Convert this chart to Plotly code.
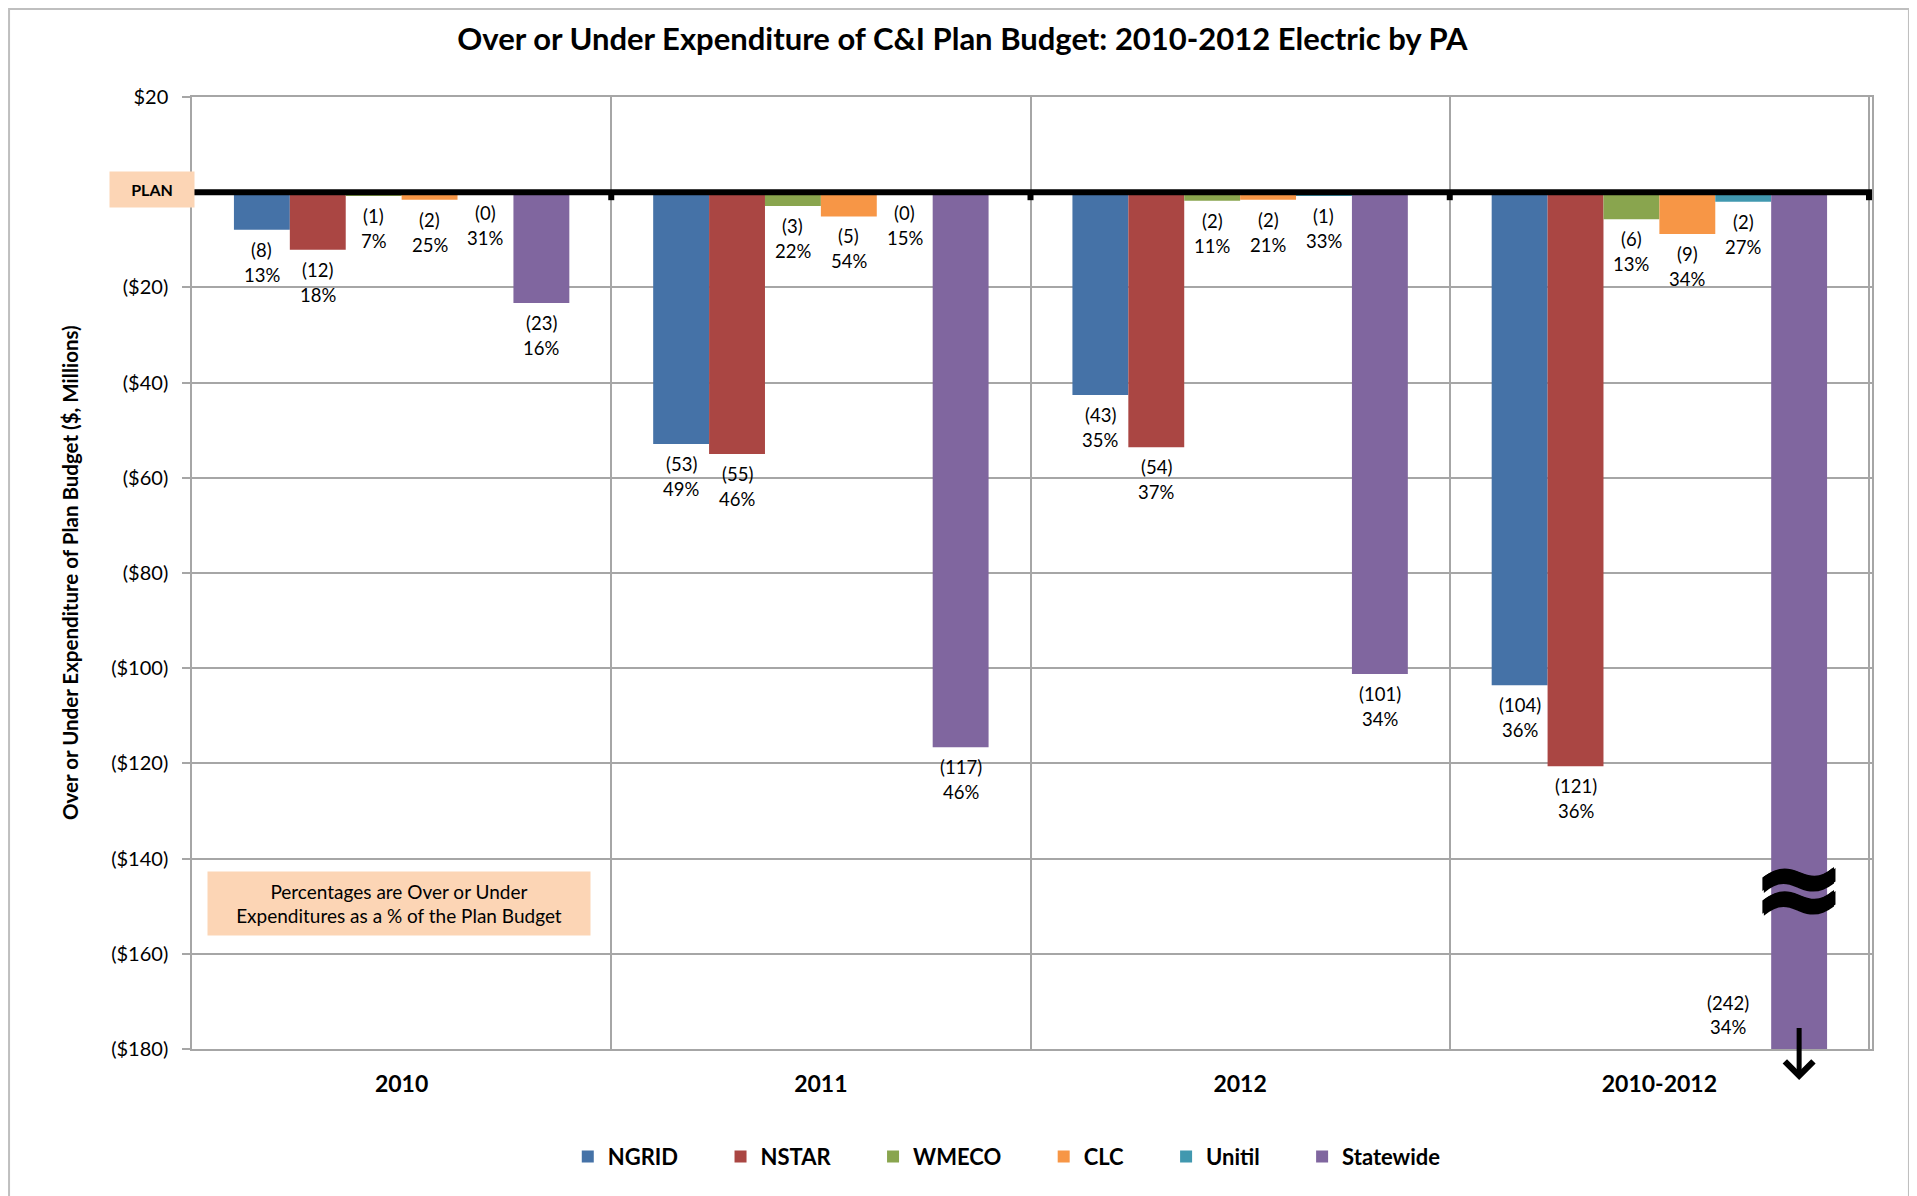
import plotly.graph_objects as go

# ---------------- data ----------------
categories = ["2010", "2011", "2012", "2010-2012"]
series_names = ["NGRID", "NSTAR", "WMECO", "CLC", "Unitil", "Statewide"]

ngrid = [-7.9, -52.9, -42.6, -103.6]
nstar = [-12.1, -55.0, -53.6, -120.6]
wmeco = [-0.8, -2.9, -1.8, -5.7]
clc = [-1.6, -5.1, -1.6, -8.8]
unitil = [-0.2, -0.2, -0.8, -2.0]
statewide = [-23.3, -116.6, -101.2, -242.0]

ngrid_pct = [13, 49, 35, 36]
nstar_pct = [18, 46, 37, 36]
wmeco_pct = [7, 22, 11, 13]
clc_pct = [25, 54, 21, 34]
unitil_pct = [31, 15, 33, 27]
statewide_pct = [16, 46, 34, 34]

y_ticks = [20, 0, -20, -40, -60, -80, -100, -120, -140, -160, -180]

# ---------------- styles ----------------
colors = ["#4572A7", "#AA4643", "#89A54E", "#F79646", "#4198AF", "#80669F"]
FONT = "Lato"
GRID = "#A6A6A6"
PEACH = "#FCD5B5"
LABEL_SIZE = 18.5

values = [ngrid, nstar, wmeco, clc, unitil, statewide]
pcts = [ngrid_pct, nstar_pct, wmeco_pct, clc_pct, unitil_pct, statewide_pct]

y_min, y_max = -180, 20
bargap = 0.2
n_series = len(series_names)
bar_w = (1 - bargap) / n_series


def bar_center(ci, si):
    return ci - (1 - bargap) / 2 + bar_w * (si + 0.5)


def money(v):
    if v > 0:
        return f"${v:.0f}"
    if v == 0:
        return ""
    return f"(${abs(v):.0f})"


PAD = "\u00a0" * 7  # extra spacing after legend entries

fig = go.Figure()
for name, vals, col in zip(series_names, values, colors):
    fig.add_trace(go.Bar(
        x=categories, y=vals, name=name + PAD,
        marker=dict(color=col, line=dict(width=0)),
    ))

annotations = []
lab_font = dict(family=FONT, size=LABEL_SIZE, color="black")
for si, (vals, pc) in enumerate(zip(values, pcts)):
    for ci, (v, p) in enumerate(zip(vals, pc)):
        amt = f"({abs(v):.0f})"
        pct = f"{p}%"
        xc = bar_center(ci, si)
        if v < y_min:
            annotations.append(dict(
                x=xc, xref="x", xshift=-71, xanchor="center",
                y=0.0483, yref="paper", yanchor="middle",
                text=amt, showarrow=False, font=lab_font))
            annotations.append(dict(
                x=xc, xref="x", xshift=-71, xanchor="center",
                y=0.0231, yref="paper", yanchor="middle",
                text=pct, showarrow=False, font=lab_font))
        else:
            annotations.append(dict(
                x=xc, xref="x", xanchor="center",
                y=v, yref="y", yanchor="middle", yshift=-20,
                text=amt, showarrow=False, font=lab_font))
            annotations.append(dict(
                x=xc, xref="x", xanchor="center",
                y=v, yref="y", yanchor="middle", yshift=-45,
                text=pct, showarrow=False, font=lab_font))

# axis break symbol and arrow on the truncated Statewide bar
sw_x = bar_center(len(categories) - 1, n_series - 1)
annotations.append(dict(
    x=sw_x, xref="x", xanchor="center", y=-146.0, yref="y", yanchor="middle",
    text="<b>≈</b>", showarrow=False,
    font=dict(family="DejaVu Sans", size=112, color="black",
              shadow="1.5px 0 0 black, -1.5px 0 0 black, 0 1.5px 0 black, 0 -1.5px 0 black"),
))
annotations.append(dict(
    x=sw_x, xref="x", y=-0.0326, yref="paper",
    ax=0, ay=-54, axref="pixel", ayref="pixel",
    text=" ", font=dict(size=1), showarrow=True, arrowhead=4, arrowsize=1.1,
    arrowwidth=5, arrowcolor="black", standoff=0,
))

# PLAN box
annotations.append(dict(
    x=-0.0238, xref="paper", xanchor="center", y=0, yref="y", yanchor="middle",
    yshift=3, text="<b>PLAN</b>", showarrow=False,
    font=dict(family=FONT, size=16, color="black"),
    bgcolor=PEACH, width=80, height=31, borderpad=2,
))

# note box
annotations.append(dict(
    x=0.1232, xref="paper", xanchor="center",
    y=0.1528, yref="paper", yanchor="middle",
    text="Percentages are Over or Under<br>Expenditures as a % of the Plan Budget",
    showarrow=False, align="center",
    font=dict(family=FONT, size=19, color="black"),
    bgcolor=PEACH, width=374, height=55, borderpad=4,
))

# y-axis title
annotations.append(dict(
    x=-0.0726, xref="paper", xanchor="center", y=0.5, yref="paper",
    yanchor="middle",
    text="<b>Over or Under Expenditure of Plan Budget ($, Millions)</b>",
    textangle=-90, showarrow=False,
    font=dict(family=FONT, size=20.5, color="black"),
))

shapes = [
    # outer chart border
    dict(type="rect", xref="paper", yref="paper",
         x0=-0.1089, x1=1.0220, y0=-0.17, y1=1.0924,
         line=dict(color="#BFBFBF", width=2), fillcolor="rgba(0,0,0,0)",
         layer="below"),
    # plan (zero) line
    dict(type="line", xref="paper", yref="y", x0=0, x1=1, y0=0, y1=0,
         line=dict(color="black", width=6), layer="above"),
]
for b in [ci + 0.5 for ci in range(len(categories))]:
    shapes.append(dict(
        type="rect", xref="x", yref="y",
        xsizemode="pixel", xanchor=b, x0=-3, x1=3,
        ysizemode="pixel", yanchor=0, y0=-8, y1=0,
        fillcolor="black", line=dict(width=0), layer="above",
    ))

fig.update_layout(
    width=1909, height=1188,
    margin=dict(l=184, r=45, t=89, b=147),
    paper_bgcolor="white", plot_bgcolor="white",
    barmode="group", bargap=bargap, bargroupgap=0,
    title=dict(
        text="<b>Over or Under Expenditure of C&I Plan Budget: 2010-2012 Electric by PA</b>",
        x=0.5, xref="container", xanchor="center",
        y=1 - 31 / 1188, yref="container", yanchor="middle",
        font=dict(family=FONT, size=31, color="black"),
    ),
    xaxis=dict(
        type="category", tickson="boundaries", ticks="",
        showgrid=True, gridcolor=GRID, gridwidth=1.5,
        showline=True, linecolor=GRID, linewidth=1.5, mirror=True,
        tickfont=dict(family=FONT, size=23, color="black", weight="bold"),
        ticklabelstandoff=14,
    ),
    yaxis=dict(
        range=[y_min, y_max], tickvals=y_ticks,
        ticktext=[money(v) for v in y_ticks],
        showgrid=True, gridcolor=GRID, gridwidth=1.5,
        zeroline=False,
        showline=True, linecolor=GRID, linewidth=1.5, mirror=True,
        ticks="outside", ticklen=8, tickcolor=GRID, tickwidth=1.5,
        tickfont=dict(family=FONT, size=20, color="black"),
        ticklabelstandoff=10,
    ),
    legend=dict(
        orientation="h", x=0.496, xanchor="center", y=-0.113, yanchor="middle",
        font=dict(family=FONT, size=22, color="black", weight="bold"),
        itemwidth=30, traceorder="normal",
    ),
    annotations=annotations,
    shapes=shapes,
)

fig.write_html("out.html")
